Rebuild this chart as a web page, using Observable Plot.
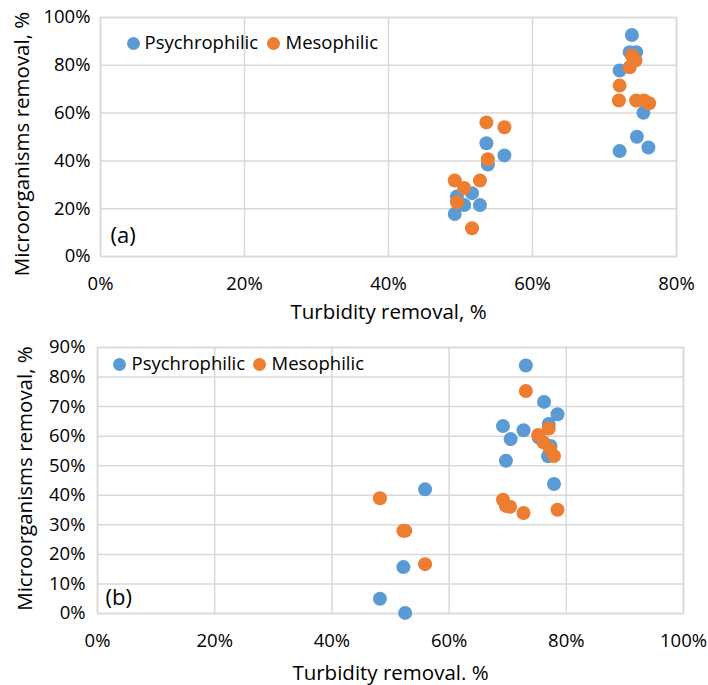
<!DOCTYPE html>
<html>
<head>
<meta charset="utf-8">
<script src="https://cdn.jsdelivr.net/npm/d3@7"></script>
<script src="https://cdn.jsdelivr.net/npm/@observablehq/plot@0.6"></script>
<style>
  body { margin: 0; background: #fff; }
  #chart svg { display: block; }
</style>
</head>
<body>
<div id="chart"></div>
<script>
// ---- Panel (a) data (percent) ----
const aPsychroX = [73.8, 73.5, 74.4, 72.1, 75.4, 74.5, 72.1, 76.1, 53.6, 56.1, 53.8, 49.5, 51.6, 50.5, 52.7, 49.2];
const aPsychroY = [92.7, 85.5, 85.5, 77.8, 60.1, 50.1, 44.1, 45.6, 47.4, 42.3, 38.5, 25.1, 26.5, 21.5, 21.5, 17.8];
const aMesoX    = [73.8, 74.3, 73.5, 72.1, 72.0, 74.4, 75.5, 76.2, 53.6, 56.1, 53.8, 49.2, 50.5, 52.7, 49.5, 51.6];
const aMesoY    = [84.1, 82.0, 79.2, 71.5, 65.3, 65.3, 65.3, 64.1, 56.1, 54.1, 40.7, 31.8, 28.7, 31.8, 22.7, 11.8];

// ---- Panel (b) data (percent) ----
const bPsychroX = [73.1, 76.2, 78.5, 77.0, 69.2, 72.7, 70.5, 75.3, 77.3, 76.9, 69.7, 77.9, 55.9, 52.2, 48.2, 52.5];
const bPsychroY = [83.9, 71.6, 67.4, 64.1, 63.4, 62.0, 59.0, 59.5, 56.7, 53.2, 51.7, 43.8, 42.0, 15.7, 5.0, 0.2];
const bMesoX    = [73.1, 77.0, 75.2, 76.1, 77.2, 77.9, 69.2, 69.7, 70.4, 72.7, 78.5, 48.2, 52.2, 52.5, 55.9];
const bMesoY    = [75.3, 62.6, 60.4, 57.9, 55.6, 53.3, 38.5, 36.4, 36.1, 34.0, 35.1, 39.0, 28.0, 28.0, 16.7];

// ---- Axis ticks and labels ----
const aXTicks = [0, 20, 40, 60, 80];
const aYTicks = [0, 20, 40, 60, 80, 100];
const bXTicks = [0, 20, 40, 60, 80, 100];
const bYTicks = [0, 10, 20, 30, 40, 50, 60, 70, 80, 90];
const seriesNames = ["Psychrophilic", "Mesophilic"];
const seriesColors = ["#5B9BD5", "#ED7D31"];
const yTitle = "Microorganisms removal, %";
const aXTitle = "Turbidity removal, %";
const bXTitle = "Turbidity removal. %";
const panelLabels = ["(a)", "(b)"];

const pct = d => d + "%";
const FONT = "Open Sans";
const GRID = "#d9d9d9";

function rows(xs, ys, s) { return xs.map((x, i) => ({x, y: ys[i], s})); }

function panel(cfg) {
  const data = [
    ...rows(cfg.px, cfg.py, seriesNames[0]),
    ...rows(cfg.mx, cfg.my, seriesNames[1])
  ];
  return Plot.plot({
    width: 708,
    height: cfg.height,
    marginLeft: cfg.ml, marginRight: cfg.mr, marginTop: cfg.mt, marginBottom: cfg.mb,
    style: {fontFamily: FONT, fontSize: "18.5px", color: "#000", background: "#fff", overflow: "visible"},
    x: {domain: cfg.xDomain, ticks: cfg.xTicks, tickFormat: pct},
    y: {domain: cfg.yDomain, ticks: cfg.yTicks, tickFormat: pct},
    color: {domain: seriesNames, range: seriesColors},
    marks: [
      Plot.gridX(cfg.xTicks, {stroke: GRID, strokeOpacity: 1, strokeWidth: 1.5}),
      Plot.gridY(cfg.yTicks, {stroke: GRID, strokeOpacity: 1, strokeWidth: 1.5}),
      Plot.frame({stroke: GRID, strokeWidth: 1.5}),
      Plot.axisX(cfg.xTicks, {tickSize: 0, tickPadding: 20, label: null, tickFormat: pct, fontSize: 18.5}),
      Plot.axisY(cfg.yTicks, {tickSize: 0, tickPadding: cfg.yPad, label: null, tickFormat: pct, fontSize: 18.5}),
      Plot.text([yTitle], {frameAnchor: "left", dx: cfg.yTitleDx, dy: cfg.yTitleDy, rotate: -90, textAnchor: "middle", lineAnchor: "middle", fontSize: 20.5, fill: "#000"}),
      Plot.text([cfg.xTitle], {frameAnchor: "bottom", dy: cfg.xTitleDy, textAnchor: "middle", lineAnchor: "bottom", fontSize: 20.5, fill: "#000"}),
      Plot.text([cfg.label], {frameAnchor: "bottom-left", dx: cfg.labDx, dy: cfg.labDy, textAnchor: "start", lineAnchor: "middle", fontSize: 22, fill: "#000"}),
      // legend
      Plot.dot([0], {frameAnchor: "top-left", dx: cfg.leg[0], dy: cfg.legDy, r: 6.5, fill: seriesColors[0]}),
      Plot.text([seriesNames[0]], {frameAnchor: "top-left", dx: cfg.leg[1], dy: cfg.legDy, textAnchor: "start", lineAnchor: "middle", fontSize: 18.5, fill: "#000"}),
      Plot.dot([0], {frameAnchor: "top-left", dx: cfg.leg[2], dy: cfg.legDy, r: 6.5, fill: seriesColors[1]}),
      Plot.text([seriesNames[1]], {frameAnchor: "top-left", dx: cfg.leg[3], dy: cfg.legDy, textAnchor: "start", lineAnchor: "middle", fontSize: 18.5, fill: "#000"}),
      // data
      Plot.dot(data, {x: "x", y: "y", fill: "s", r: 7, stroke: null})
    ]
  });
}

const chart = document.getElementById("chart");
chart.append(panel({
  height: 325, ml: 100, mr: 32, mt: 17, mb: 69,
  xDomain: [0, 80], yDomain: [0, 100], xTicks: aXTicks, yTicks: aYTicks,
  px: aPsychroX, py: aPsychroY, mx: aMesoX, my: aMesoY,
  yPad: 10, yTitleDx: -78, yTitleDy: 7, xTitle: aXTitle, xTitleDy: 62,
  label: panelLabels[0], labDx: 10, labDy: -21,
  leg: [33, 44, 173, 185], legDy: 26
}));
chart.append(panel({
  height: 360, ml: 97, mr: 25, mt: 22, mb: 72,
  xDomain: [0, 100], yDomain: [0, 90], xTicks: bXTicks, yTicks: bYTicks,
  px: bPsychroX, py: bPsychroY, mx: bMesoX, my: bMesoY,
  yPad: 12, yTitleDx: -72, yTitleDy: -2, xTitle: bXTitle, xTitleDy: 66,
  label: panelLabels[1], labDx: 8, labDy: -16,
  leg: [22, 34, 162, 174], legDy: 17
}));
</script>
</body>
</html>
